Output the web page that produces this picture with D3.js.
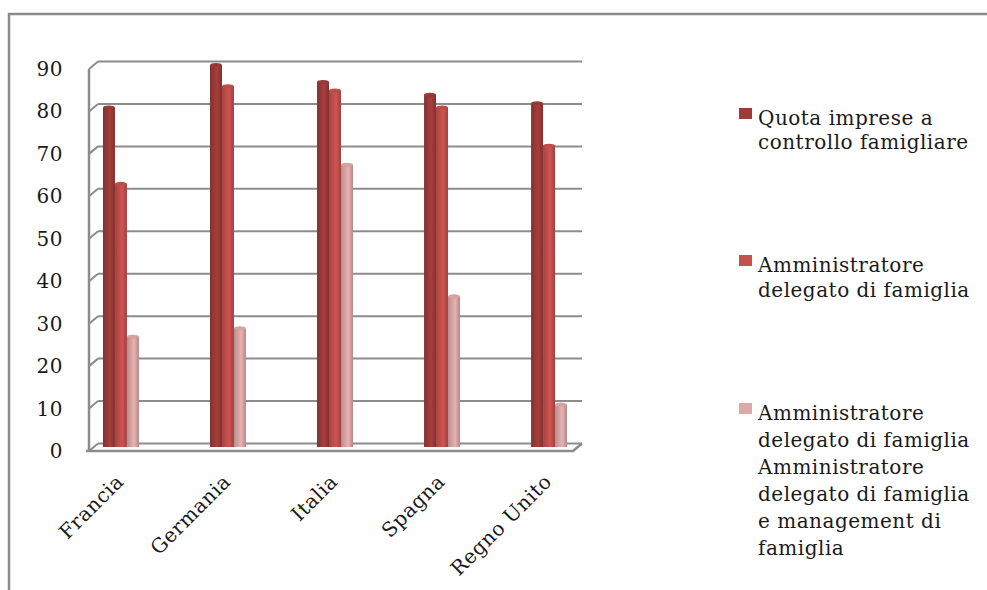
<!DOCTYPE html>
<html><head><meta charset="utf-8">
<script src="https://cdn.jsdelivr.net/npm/d3@7"></script>
<style>html,body{margin:0;padding:0;background:#fff;}svg{display:block;}</style>
</head><body>
<svg id="c" width="987" height="590"></svg>
<script>
const categories = ["Francia", "Germania", "Italia", "Spagna", "Regno Unito"];
const seriesNames = [
  ["Quota imprese a", "controllo famigliare"],
  ["Amministratore", "delegato di famiglia"],
  ["Amministratore", "delegato di famiglia", "Amministratore", "delegato di famiglia", "e management di", "famiglia"]
];
const quotaImprese = [80, 90, 86, 83, 81];
const adFamiglia = [62, 85, 84, 80, 71];
const adManagement = [26, 28, 66.5, 35.5, 10];
const yTicks = [0, 10, 20, 30, 40, 50, 60, 70, 80, 90];
const colors = ["#9e3b39", "#c5504d", "#dca9a8"];

const series = [quotaImprese, adFamiglia, adManagement];
const svg = d3.select("#c");
const font = "'DejaVu Serif', 'Liberation Serif', serif";

svg.append("path").attr("d", "M9,590 V14 H987").attr("fill", "none").attr("stroke", "#8a8a8a").attr("stroke-width", 2.5);

const y = d3.scaleLinear().domain([0, 90]).range([451, 69]);
const dx = 9, dy = -7.5;
const x = d3.scaleBand().domain(categories).range([85, 585]).paddingInner(0.664).paddingOuter(0.168);
const xs = d3.scaleBand().domain([0, 1, 2]).range([0, x.bandwidth()]);
const plotL = 89, plotR = 573;

const grid = svg.append("g");
yTicks.forEach(t => {
  grid.append("line").attr("x1", plotL + dx).attr("x2", plotR + dx)
    .attr("y1", y(t) + dy).attr("y2", y(t) + dy)
    .attr("stroke", "#8c8c8c").attr("stroke-width", 2);
  grid.append("line").attr("x1", plotL).attr("x2", plotL + dx)
    .attr("y1", y(t)).attr("y2", y(t) + dy)
    .attr("stroke", "#8c8c8c").attr("stroke-width", 2);
});
grid.append("line").attr("x1", plotL).attr("x2", plotL).attr("y1", y(90)).attr("y2", y(0))
  .attr("stroke", "#8c8c8c").attr("stroke-width", 2.5);
grid.append("path").attr("d", `M${plotL - 3},${y(0)} H${plotR} L${plotR + dx},${y(0) + dy}`)
  .attr("fill", "none").attr("stroke", "#8c8c8c").attr("stroke-width", 2.5);

const defs = svg.append("defs");
colors.forEach((c, i) => {
  const g = defs.append("linearGradient").attr("id", "g" + i).attr("x1", "0").attr("x2", "1").attr("y1", "0").attr("y2", "0");
  const base = d3.color(c);
  g.append("stop").attr("offset", "0%").attr("stop-color", base.darker(0.5));
  g.append("stop").attr("offset", "30%").attr("stop-color", base.darker(0.15));
  g.append("stop").attr("offset", "60%").attr("stop-color", base.brighter(0.15));
  g.append("stop").attr("offset", "100%").attr("stop-color", base.darker(0.6));
});

const bars = svg.append("g");
categories.forEach((cat, ci) => {
  series.forEach((s, si) => {
    const v = s[ci];
    const bx = x(cat) + xs(si);
    const w = xs.bandwidth();
    const top = y(v) - 4;
    const bottom = y(0) - 4;
    bars.append("rect").attr("x", bx).attr("y", top).attr("width", w).attr("height", bottom - top)
      .attr("fill", `url(#g${si})`);
    bars.append("ellipse").attr("cx", bx + w / 2).attr("cy", top).attr("rx", w / 2).attr("ry", 2)
      .attr("fill", d3.color(colors[si]).darker(0.1));
  });
});

svg.append("g").selectAll("text").data(yTicks).join("text")
  .attr("x", 63).attr("y", d => y(d)).attr("dy", "0.35em").attr("text-anchor", "end")
  .attr("font-family", font).attr("font-size", 20).attr("letter-spacing", 0.5).attr("fill", "#1a1a1a").text(d => d);

svg.append("g").selectAll("text").data(categories).join("text")
  .attr("transform", d => `translate(${x(d) + x.bandwidth() / 2 - 6},${473}) rotate(-45)`)
  .attr("text-anchor", "end").attr("dy", "0.7em")
  .attr("font-family", font).attr("font-size", 20).attr("letter-spacing", 0.5).attr("fill", "#1a1a1a").text(d => d);

const legendTops = [118, 265, 413];
const lineH = [24, 25, 27];
seriesNames.forEach((lines, i) => {
  const g = svg.append("g");
  g.append("rect").attr("x", 739).attr("y", legendTops[i] - 10).attr("width", 13).attr("height", 11).attr("fill", colors[i]);
  lines.forEach((ln, j) => {
    g.append("text").attr("x", 758).attr("y", legendTops[i] + j * lineH[i]).attr("dy", "0.35em")
      .attr("font-family", font).attr("font-size", 20).attr("letter-spacing", 0.5).attr("fill", "#1a1a1a").text(ln);
  });
});
</script>
</body></html>
